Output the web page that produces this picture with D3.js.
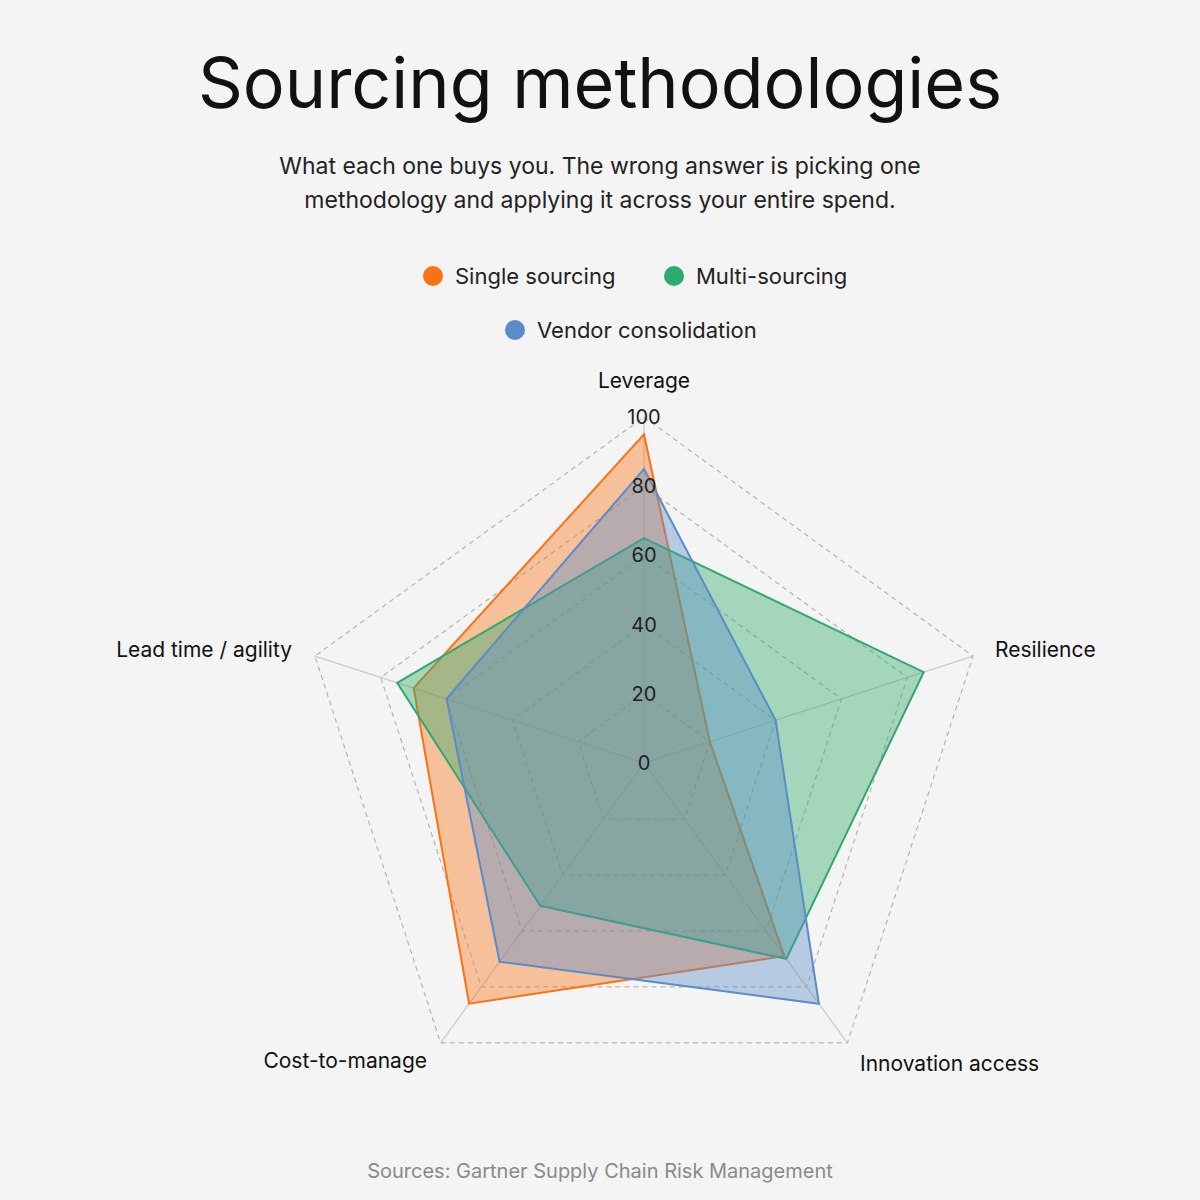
<!DOCTYPE html>
<html><head><meta charset="utf-8">
<script src="https://cdn.jsdelivr.net/npm/d3@7"></script>
<style>body{margin:0;background:#f4f4f4;}svg{display:block;font-family:Inter,"Open Sans",sans-serif;}</style>
</head><body>
<script>
const axes = ["Leverage","Resilience","Innovation access","Cost-to-manage","Lead time / agility"];
const seriesNames = ["Single sourcing","Multi-sourcing","Vendor consolidation"];
const colors = ["#f97316","#2eaa6a","#5b8bc9"];
const singleVals = [95,20,69,86,70];
const multiVals = [65,85,70,51,75];
const vendorVals = [85,40,86,71,60];
const ticks = [0,20,40,60,80,100];
const values = [singleVals,multiVals,vendorVals];

const W=1200,H=1200,cx=644,cy=763,R=346;
const svg=d3.select("body").append("svg").attr("width",W).attr("height",H);
svg.append("rect").attr("width",W).attr("height",H).attr("fill","#f4f4f4");
svg.append("text").attr("x",600).attr("y",108).attr("text-anchor","middle").attr("font-size",70).attr("fill","#111").text("Sourcing methodologies");
svg.append("text").attr("x",600).attr("y",174).attr("text-anchor","middle").attr("font-size",23).attr("fill","#222").text("What each one buys you. The wrong answer is picking one");
svg.append("text").attr("x",600).attr("y",208).attr("text-anchor","middle").attr("font-size",23).attr("fill","#222").text("methodology and applying it across your entire spend.");

const leg=[[433,276],[674,276],[515,330]];
seriesNames.forEach((n,i)=>{
  svg.append("circle").attr("cx",leg[i][0]).attr("cy",leg[i][1]).attr("r",10).attr("fill",colors[i]);
  svg.append("text").attr("x",leg[i][0]+22).attr("y",leg[i][1]+8).attr("font-size",22).attr("fill","#222").text(n);
});

const r=d3.scaleLinear().domain([0,100]).range([0,R]);
const ang=d3.scalePoint().domain(axes).range([0,2*Math.PI*4/5]);
const pt=(a,v)=>{const t=ang(a);return [cx+r(v)*Math.sin(t),cy-r(v)*Math.cos(t)];};

const g=svg.append("g");
ticks.slice(1).forEach(t=>{
  g.append("polygon").attr("points",axes.map(a=>pt(a,t).join(",")).join(" "))
   .attr("fill","none").attr("stroke","#b5b5b5").attr("stroke-dasharray","5,4").attr("stroke-width",1.2);
});
axes.forEach(a=>{
  const p=pt(a,100);
  g.append("line").attr("x1",cx).attr("y1",cy).attr("x2",p[0]).attr("y2",p[1]).attr("stroke","#c8c8c8").attr("stroke-width",1.2);
});
const line=d3.lineRadial().angle((d,i)=>ang(axes[i])).radius(d=>r(d)).curve(d3.curveLinearClosed);
values.forEach((vals,i)=>{
  g.append("path").attr("transform",`translate(${cx},${cy})`).attr("d",line(vals))
   .attr("fill",colors[i]).attr("fill-opacity",0.4).attr("stroke",colors[i]).attr("stroke-width",2);
});
ticks.forEach(t=>{
  svg.append("text").attr("x",cx).attr("y",cy-r(t)+7).attr("text-anchor","middle").attr("font-size",20).attr("fill","#222").text(t);
});
const lab=[[644,388,"middle"],[995,657,"start"],[860,1071,"start"],[427,1068,"end"],[292,657,"end"]];
axes.forEach((a,i)=>{
  svg.append("text").attr("x",lab[i][0]).attr("y",lab[i][1]).attr("text-anchor",lab[i][2]).attr("font-size",21).attr("fill","#111").text(a);
});
svg.append("text").attr("x",600).attr("y",1178).attr("text-anchor","middle").attr("font-size",20).attr("fill","#8a8a8a").text("Sources: Gartner Supply Chain Risk Management");
</script>
</body></html>
